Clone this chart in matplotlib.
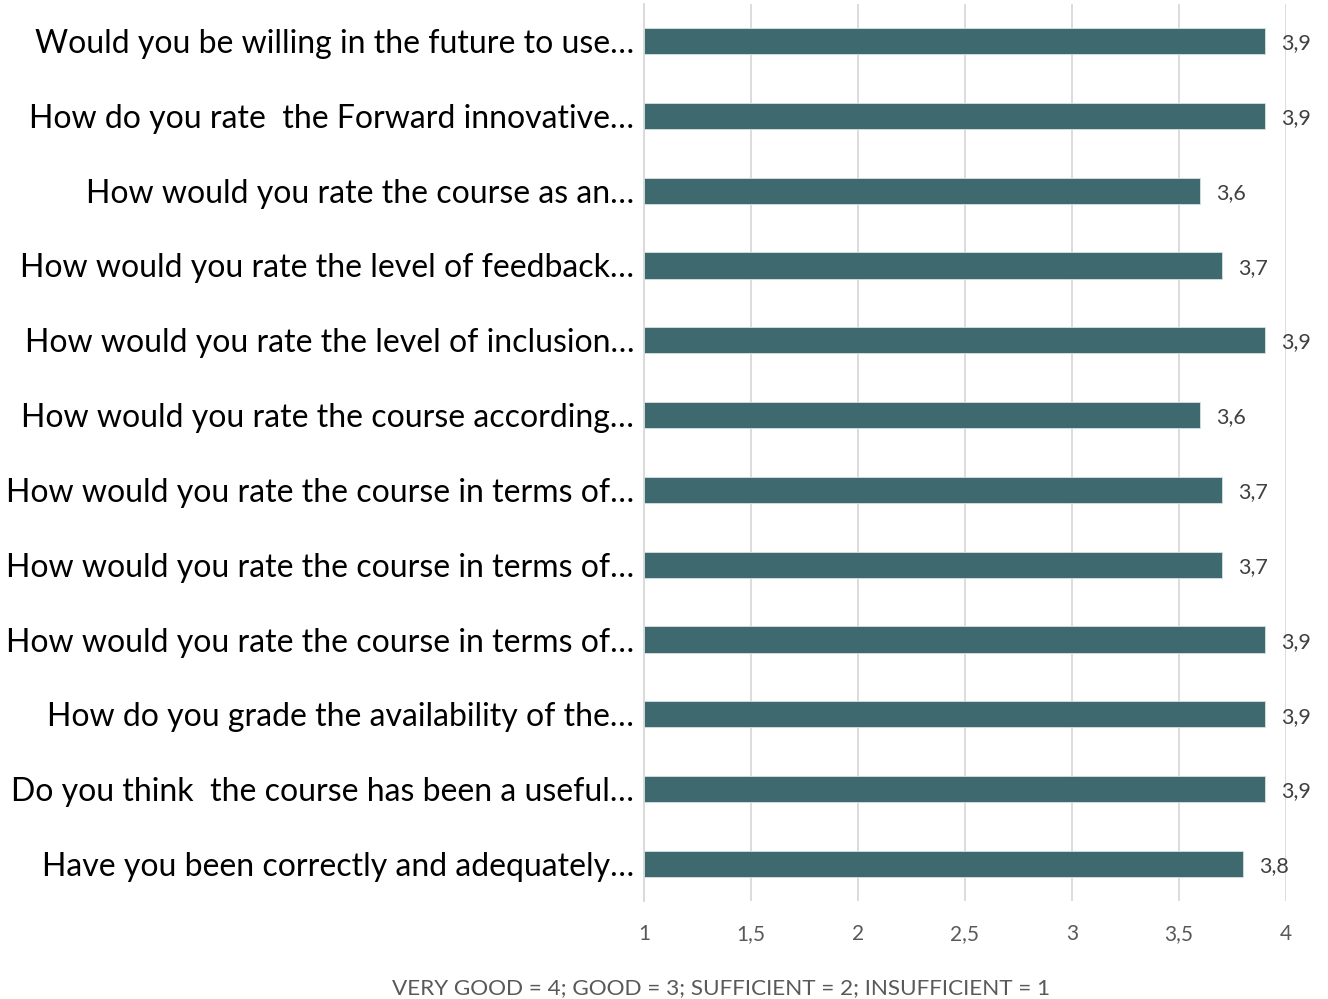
import matplotlib
matplotlib.use("Agg")
import matplotlib.pyplot as plt
import numpy as np

questions = [
    "Would you be willing in the future to use…",
    "How do you rate  the Forward innovative…",
    "How would you rate the course as an…",
    "How would you rate the level of feedback…",
    "How would you rate the level of inclusion…",
    "How would you rate the course according…",
    "How would you rate the course in terms of…",
    "How would you rate the course in terms of…",
    "How would you rate the course in terms of…",
    "How do you grade the availability of the…",
    "Do you think  the course has been a useful…",
    "Have you been correctly and adequately…",
]
scores = [3.9, 3.9, 3.6, 3.7, 3.9, 3.6, 3.7, 3.7, 3.9, 3.9, 3.9, 3.8]
x_ticks = [1, 1.5, 2, 2.5, 3, 3.5, 4]
x_tick_labels = ["1", "1,5", "2", "2,5", "3", "3,5", "4"]
scale_note = "VERY GOOD = 4; GOOD = 3; SUFFICIENT = 2; INSUFFICIENT = 1"

plt.rcParams["font.family"] = ["Lato", "DejaVu Sans"]

fig = plt.figure(figsize=(13.28, 9.99), dpi=100)
ax = fig.add_axes([0.4849, 0.0977, 0.9684 - 0.4849, 0.9964 - 0.0977])

bar_color = "#3e696e"
y = np.arange(len(questions))
base = 1
ax.barh(y, [s - base for s in scores], left=base, height=0.35,
        color=bar_color, edgecolor="#d5e2e3", linewidth=0.6, zorder=3)

for yi, s in zip(y, scores):
    ax.text(s + 0.075, yi + 0.03, f"{s:.1f}".replace(".", ","), va="center",
            ha="left", fontsize=15.5, color="#404040")

ax.set_xlim(1, 4)
ax.set_ylim(len(questions) - 0.5, -0.5)
ax.set_xticks(x_ticks)
ax.set_xticklabels(x_tick_labels, fontsize=15, color="#595959")
ax.set_yticks(y)
ax.set_yticklabels(questions, fontsize=23, color="#000000")
ax.tick_params(axis="both", length=0)
ax.tick_params(axis="y", pad=7)
for lbl in ax.get_xticklabels():
    lbl.set_verticalalignment("baseline")
ax.tick_params(axis="x", pad=28)

ax.grid(axis="x", color="#d9d9d9", linewidth=1.3, zorder=0)
ax.set_axisbelow(True)
for side in ["top", "right", "bottom"]:
    ax.spines[side].set_visible(False)
ax.spines["left"].set_color("#d9d9d9")
ax.spines["left"].set_linewidth(1.3)

fig.text(0.5432, 0.005, scale_note, ha="center", va="baseline", fontsize=16.2,
         color="#595959")

fig.savefig("out.png", dpi=100, facecolor="white")
